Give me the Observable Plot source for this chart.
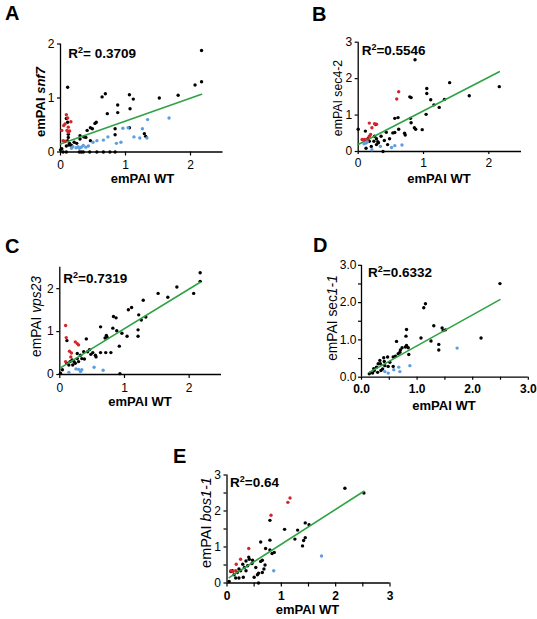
<!DOCTYPE html>
<html><head><meta charset="utf-8">
<script src="https://cdn.jsdelivr.net/npm/d3@7"></script>
<script src="https://cdn.jsdelivr.net/npm/@observablehq/plot@0.6"></script>
<style>
body{margin:0;background:#fff;}
#fig{position:relative;width:537px;height:619px;}
#fig svg{position:absolute;overflow:visible;background:transparent;}
</style></head><body><div id="fig"></div>
<script>
// ---------- data (emPAI WT, emPAI mutant) ----------
const A_black = [[2.17,1.88],[2.07,1.24],[2.17,1.30],[1.81,1.05],[1.52,1.00],[1.06,1.06],[1.12,0.98],[1.07,0.80],[0.88,0.87],[0.88,0.73],[0.64,1.02],[0.69,1.08],[0.72,0.71],[0.11,1.20],[0.55,0.55],[0.53,0.53],[0.46,0.45],[0.49,0.43],[0.41,0.40],[0.36,0.28],[0.39,0.27],[0.30,0.30],[0.30,0.24],[0.46,0.21],[0.84,0.43],[0.84,0.32],[1.06,0.45],[1.29,0.34],[1.31,0.29],[0.13,0.13],[0.09,0.11],[0.17,0.12],[0.14,0.16],[0.25,0.16],[0.21,0.18],[0.00,0.04],[0.02,0.06],[0.11,0.21],[0.12,0.27],[0.04,0],[0.09,0],[0.29,0],[0.32,0],[0.35,0],[0.45,0],[0.56,0],[0.66,0],[0.76,0],[0.84,0],[0.11,0.55],[0.12,0.33],[0.09,0.62]];
const A_red = [[0.09,0.69],[0.11,0.63],[0.07,0.52],[0.05,0.49],[0.02,0.40],[0.12,0.46],[0.14,0.39],[0.10,0.40],[0.16,0.56],[0.07,0.20],[0.04,0.21],[0.12,0.36]];
const A_blue = [[1.67,0.63],[1.34,0.60],[1.26,0.43],[1.13,0.28],[1.22,0.26],[1.33,0.26],[0.96,0.44],[1.04,0.45],[0.86,0.16],[0.93,0.18],[0.73,0.28],[0.66,0.22],[0.56,0.21],[0.50,0.18],[0.43,0.11],[0.39,0.09],[0.32,0.09],[0.27,0.10],[0.24,0.08],[0.19,0.10],[0.17,0.07],[0.29,0.07],[0.35,0.12]];
const A_fit = [0.15, 0.424];   // intercept, slope
const A_r2 = "= 0.3709";

const B_black = [[0.87,2.52],[1.40,1.89],[2.16,1.78],[1.70,1.53],[1.05,1.73],[1.05,1.59],[1.11,1.42],[1.16,1.28],[1.32,1.43],[1.24,1.21],[1.04,1.02],[0.79,1.50],[0.81,1.48],[0.80,0.91],[0.81,0.79],[0.86,0.65],[0.88,0.61],[0.98,0.60],[0.61,0.93],[0.56,0.91],[0.62,0.61],[0.53,0.51],[0.56,0.52],[0.71,0.50],[0.72,0.45],[0.48,0.35],[0.43,0.53],[0.35,0.42],[0.28,0.35],[0.24,0.28],[0.28,0.19],[0.20,0.14],[0.12,0.09],[0.11,0.56],[0.00,0.61],[0.45,0.19],[0.38,0],[0.17,0.28],[0.31,0.24],[0.25,0.42],[0.15,0.35],[0.27,0.74],[0.30,0.27],[0.40,0.30]];
const B_red = [[0.62,1.64],[0.59,1.44],[0.17,0.78],[0.28,0.75],[0.25,0.76],[0.21,0.65],[0.19,0.47],[0.06,0.33],[0.10,0.33],[0.14,0.33],[0.17,0.42],[0.08,0.32]];
const B_blue = [[0.67,0.18],[0.56,0.16],[0.51,0.11],[0.34,0.14],[0.21,0.05],[0.12,0.23],[0.09,0.21],[0.14,0.26]];
const B_fit = [0.19, 0.926];
const B_r2 = "=0.5546";

const C_black = [[2.17,2.37],[2.17,2.17],[2.07,1.89],[1.81,2.04],[1.67,1.80],[1.52,1.89],[1.29,1.73],[1.11,1.56],[1.06,1.51],[1.22,1.39],[1.33,1.34],[1.26,1.27],[1.21,1.04],[1.21,0.89],[1.04,0.89],[0.96,0.96],[0.88,1.02],[0.83,1.35],[0.87,1.32],[0.82,1.08],[0.63,1.11],[0.72,0.91],[0.73,0.87],[0.70,0.85],[0.92,0.66],[0.79,0.51],[0.71,0.51],[0.63,0.51],[0.56,0.41],[0.55,0.45],[0.51,0.51],[0.41,0.83],[0.37,0.53],[0.43,0.53],[0.32,0.45],[0.34,0.37],[0.27,0.49],[0.27,0.37],[0.22,0.30],[0.19,0.34],[0.29,0.30],[0.11,0.26],[0.11,0.79],[0.04,0.11],[0.01,0.03],[0.93,0.02],[0.20,0.22],[0.24,0.26],[0.16,0.30],[0.14,0.22],[0.48,0.47],[0.46,0.58],[0.38,0.36]];
const C_red = [[0.09,1.14],[0.10,0.86],[0.24,0.76],[0.27,0.72],[0.29,0.69],[0.15,0.54],[0.17,0.41],[0.09,0.30],[0.18,0.50]];
const C_blue = [[0.67,0.10],[0.53,0.17],[0.34,0.11],[0.29,0.12],[0.25,0.13],[0.14,0.05],[0.32,0.07]];
const C_fit = [0.145, 0.924];
const C_r2 = "=0.7319";

const D_black = [[2.49,2.51],[2.15,1.05],[1.15,1.97],[1.12,1.86],[1.30,1.38],[1.45,1.32],[1.47,1.25],[1.51,1.27],[1.07,1.05],[1.25,0.97],[1.39,0.88],[1.39,0.73],[0.81,1.28],[0.80,1.10],[0.63,0.96],[0.81,0.85],[0.84,0.79],[0.79,0.81],[0.85,0.61],[0.69,0.67],[0.70,0.73],[0.73,0.79],[0.66,0.63],[0.61,0.56],[0.57,0.54],[0.51,0.40],[0.47,0.54],[0.40,0.52],[0.33,0.45],[0.34,0.36],[0.42,0.31],[0.48,0.29],[0.27,0.27],[0.23,0.18],[0.17,0.13],[0.14,0.09],[0.20,0.11],[0.29,0.13],[0.57,0.29],[0.38,0.22],[0.35,0.18],[0.41,0.42],[0.30,0.36],[0.22,0.23]];
const D_red = [];
const D_blue = [[1.72,0.78],[0.87,0.31],[0.67,0.27],[0.69,0.15],[0.58,0.20],[0.48,0.11],[0.42,0.15]];
const D_fit = [0.014, 0.83];
const D_r2 = "=0.6332";

const E_black = [[2.17,2.63],[2.52,2.50],[0.79,1.74],[1.06,1.49],[1.30,1.47],[1.44,1.67],[1.51,1.62],[1.25,1.22],[1.44,1.26],[1.41,1.18],[1.39,1.03],[0.62,1.14],[0.79,1.19],[0.71,0.96],[0.79,0.92],[0.83,0.82],[0.87,0.85],[0.65,0.63],[0.70,0.50],[0.68,0.39],[0.65,0.29],[0.56,0.23],[0.58,0.27],[0.62,0.60],[0.47,0.63],[0.41,0.66],[0.40,0.72],[0.46,0.54],[0.38,0.48],[0.35,0.34],[0.32,0.43],[0.25,0.34],[0.22,0.39],[0.30,0.16],[0.22,0.14],[0.16,0.14],[0.13,0.23],[0.19,0.29],[0.10,0.34],[0.07,0.32],[0.04,0.04],[0.58,0.0],[0.50,0.16],[0.53,0.43],[0.29,0.52],[0.35,0.61]];
const E_red = [[1.16,2.36],[1.12,2.24],[0.81,1.88],[0.40,0.96],[0.25,0.66],[0.17,0.52],[0.07,0.34],[0.11,0.32],[0.16,0.34]];
const E_blue = [[1.74,0.75],[0.86,0.34]];
const E_fit = [0.11, 0.968];
const E_r2 = "=0.64";

// tick values and labels
const ticks012 = [0,1,2];
const ticks0123 = [0,1,2,3];
const halfTicks = [0.5,1.5,2.5];
const labels0123 = ["0","1","2","3"];
const labelsDec = ["0.0","1.0","2.0","3.0"];
const xTitle = "emPAI WT";

// ---------- layout ----------
const FONT = "Arial, 'Liberation Sans', sans-serif";
const RED = "#d3262b", BLUE = "#5d9ee0", GREEN = "#2ea343";

const panels = [
  {letter:"A", black:A_black, red:A_red, blue:A_blue, fit:A_fit, r2:A_r2,
   left:0, top:0, w:230, h:195, ml:60, mr:7.5, mt:43.5, mb:43.5,
   xDom:[0,2.5], yDom:[0,2], xT:ticks012, xL:labels0123, yT:ticks012, yL:labels0123, xMinor:[], yMinor:[],
   xts:4, xtp:4, xtw:"normal", yts:3, ytp:3,
   letterPos:[5,20], r2Pos:[68.3,58.3],
   ylab:{x:45, y:102, size:13, weight:"bold", parts:[["emPAI ","normal"],["snf7","italic"]]},
   xlab:[142.5,182.7]},
  {letter:"B", black:B_black, red:B_red, blue:B_blue, fit:B_fit, r2:B_r2,
   left:280, top:0, w:250, h:195, ml:77.7, mr:9, mt:41.7, mb:44,
   xDom:[0,2.5], yDom:[0,3], xT:ticks012, xL:labels0123, yT:ticks0123, yL:labels0123, xMinor:[], yMinor:[],
   xts:3, xtp:3.5, xtw:"normal", yts:3, ytp:3,
   letterPos:[312,21], r2Pos:[361.7,55],
   ylab:{x:342, y:98, size:12.3, weight:"normal", parts:[["emPAI sec4-2","normal"]]},
   xlab:[439,182.7]},
  {letter:"C", black:C_black, red:C_red, blue:C_blue, fit:C_fit, r2:C_r2,
   left:0, top:220, w:230, h:200, ml:59.3, mr:9, mt:46.7, mb:46,
   xDom:[0,2.5], yDom:[0,2.5], xT:ticks012, xL:labels0123, yT:ticks012, yL:labels0123, xMinor:[], yMinor:[],
   xts:4, xtp:4.5, xtw:"normal", yts:3, ytp:3,
   letterPos:[5,253], r2Pos:[63.3,282.7],
   ylab:{x:41, y:316.5, size:13.8, weight:"normal", parts:[["emPAI ","normal"],["vps23","italic"]]},
   xlab:[140,406.3]},
  {letter:"D", black:D_black, red:D_red, blue:D_blue, fit:D_fit, r2:D_r2,
   left:280, top:220, w:257, h:200, ml:81, mr:9.2, mt:44.8, mb:43.3,
   xDom:[0,3], yDom:[0,3], xT:ticks0123, xL:labelsDec, yT:ticks0123, yL:labelsDec, xMinor:halfTicks, yMinor:halfTicks,
   xts:3, xtp:4, xtw:"bold", yts:3, ytp:2,
   letterPos:[313,252], r2Pos:[368,276.7],
   ylab:{x:337, y:318, size:13.8, weight:"normal", parts:[["emPAI sec","normal"],["1-1","italic"]]},
   xlab:[444,409.7]},
  {letter:"E", black:E_black, red:E_red, blue:E_blue, fit:E_fit, r2:E_r2,
   left:160, top:420, w:240, h:199, ml:66.5, mr:10.5, mt:54.5, mb:36.5,
   xDom:[0,3], yDom:[0,3], xT:ticks0123, xL:labels0123, yT:ticks0123, yL:labels0123, xMinor:halfTicks, yMinor:halfTicks,
   xts:4, xtp:4.5, xtw:"bold", yts:3, ytp:3,
   letterPos:[173,463], r2Pos:[230,486.7],
   ylab:{x:210.5, y:522.5, size:14.5, weight:"normal", parts:[["emPAI ","normal"],["bos1-1","italic"]]},
   xlab:[307.5,614.3]}
];

const fig = document.getElementById("fig");

for (const c of panels) {
  const all = [...c.black, ...c.red, ...c.blue];
  const [x0, x1] = d3.extent(all, d => d[0]);
  const fitLine = [[x0, c.fit[0] + c.fit[1]*x0], [x1, c.fit[0] + c.fit[1]*x1]];
  const dotOpts = {x: d => d[0], y: d => d[1], r: 1.7, stroke: "none"};
  const marks = [
    Plot.axisX(c.xT, {tickSize: c.xts, tickPadding: c.xtp, tickFormat: d => c.xL[c.xT.indexOf(d)],
      fontSize: 12, fontWeight: c.xtw, strokeWidth: 1.2, label: null}),
    Plot.axisY(c.yT, {tickSize: c.yts, tickPadding: c.ytp, tickFormat: d => c.yL[c.yT.indexOf(d)],
      fontSize: 12, strokeWidth: 1.2, label: null})
  ];
  if (c.xMinor.length) marks.push(Plot.axisX(c.xMinor, {tickSize: c.xts, tickFormat: () => "", strokeWidth: 1.2, label: null}));
  if (c.yMinor.length) marks.push(Plot.axisY(c.yMinor, {tickSize: c.yts, tickFormat: () => "", strokeWidth: 1.2, label: null}));
  marks.push(
    Plot.ruleY([c.yDom[0]], {stroke: "#000", strokeWidth: 1.3}),
    Plot.ruleX([c.xDom[0]], {stroke: "#000", strokeWidth: 1.3}),
    Plot.dot(c.black, {...dotOpts, fill: "#000"}),
    Plot.line(fitLine, {x: d => d[0], y: d => d[1], stroke: GREEN, strokeWidth: 1.6}),
    Plot.dot(c.red, {...dotOpts, fill: RED}),
    Plot.dot(c.blue, {...dotOpts, fill: BLUE})
  );
  const svg = Plot.plot({
    width: c.w, height: c.h,
    marginLeft: c.ml, marginRight: c.mr, marginTop: c.mt, marginBottom: c.mb,
    style: {fontFamily: FONT, background: "transparent", color: "#000"},
    x: {domain: c.xDom, label: null},
    y: {domain: c.yDom, label: null},
    marks
  });
  svg.style.left = c.left + "px";
  svg.style.top = c.top + "px";
  svg.style.maxWidth = "none";
  fig.appendChild(svg);

  const s = d3.select(svg);
  const L = c.left, T = c.top;
  // panel letter
  s.append("text").attr("x", c.letterPos[0]-L).attr("y", c.letterPos[1]-T)
    .attr("text-anchor", "start").attr("font-family", FONT).attr("font-size", 20)
    .attr("font-weight", "bold").attr("fill", "#000").text(c.letter);
  // R squared
  const r = s.append("text").attr("x", c.r2Pos[0]-L).attr("y", c.r2Pos[1]-T)
    .attr("text-anchor", "start").attr("font-family", FONT).attr("font-size", 13.5)
    .attr("font-weight", "bold").attr("fill", "#000");
  r.append("tspan").text("R");
  r.append("tspan").attr("dy", -5).attr("font-size", 9).text("2");
  r.append("tspan").attr("dy", 5).text(c.r2);
  // y title
  const yl = s.append("text").attr("transform", `translate(${c.ylab.x-L},${c.ylab.y-T}) rotate(-90)`)
    .attr("text-anchor", "middle").attr("font-family", FONT).attr("font-size", c.ylab.size)
    .attr("font-weight", c.ylab.weight).attr("fill", "#000");
  for (const [t, st] of c.ylab.parts) yl.append("tspan").attr("font-style", st).text(t);
  // x title
  s.append("text").attr("x", c.xlab[0]-L).attr("y", c.xlab[1]-T)
    .attr("text-anchor", "middle").attr("font-family", FONT).attr("font-size", 13)
    .attr("font-weight", "bold").attr("fill", "#000").text(xTitle);
}
</script></body></html>
